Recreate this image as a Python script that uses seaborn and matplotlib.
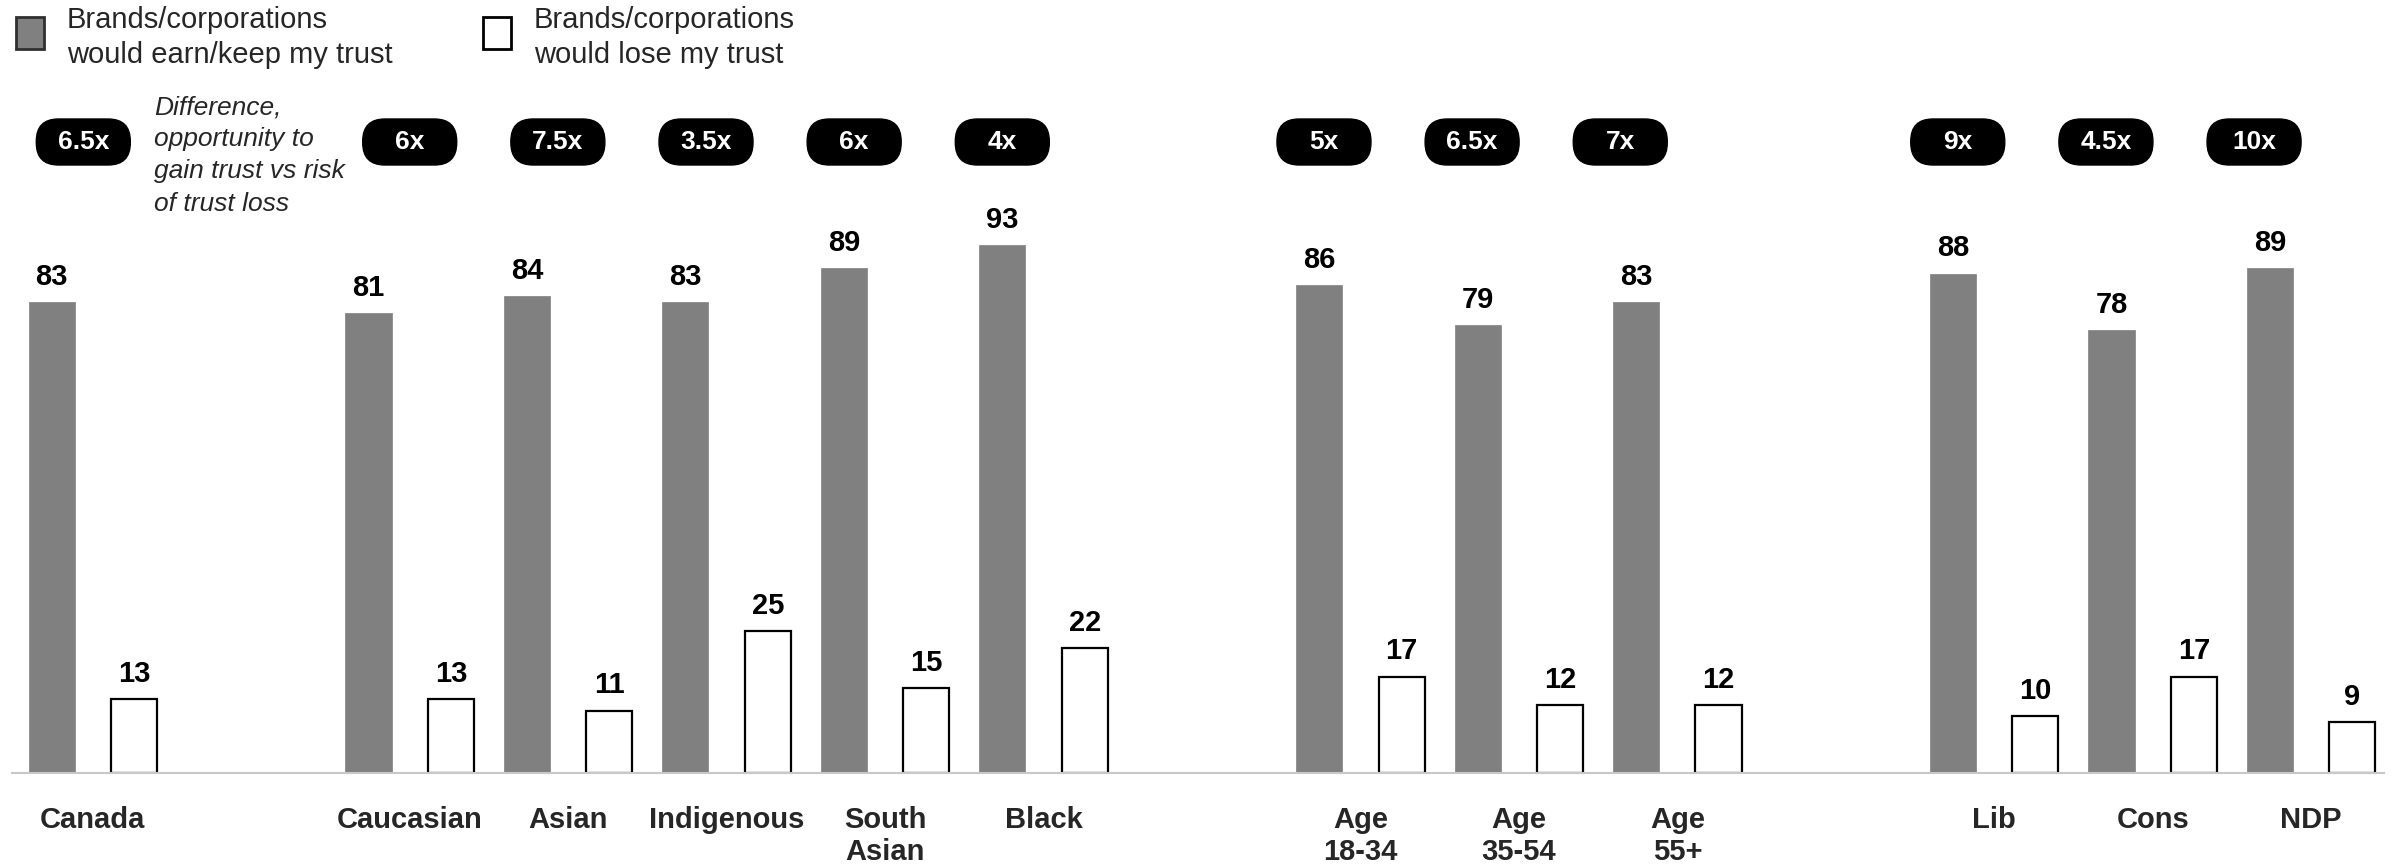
import matplotlib
matplotlib.use("Agg")
import matplotlib.pyplot as plt
from matplotlib.patches import FancyBboxPatch, Rectangle
import seaborn as sns
import pandas as pd

# ---- data -------------------------------------------------------------
total_group = ["Canada"]
ethnic_group = ["Caucasian", "Asian", "Indigenous", "South\nAsian", "Black"]
age_group = ["Age\n18-34", "Age\n35-54", "Age\n55+"]
party_group = ["Lib", "Cons", "NDP"]
groups = [total_group, ethnic_group, age_group, party_group]
categories = [c for g in groups for c in g]

earn_trust = [83, 81, 84, 83, 89, 93, 86, 79, 83, 88, 78, 89]
lose_trust = [13, 13, 11, 25, 15, 22, 17, 12, 12, 10, 17, 9]
ratios = ["6.5x", "6x", "7.5x", "3.5x", "6x", "4x", "5x", "6.5x", "7x", "9x", "4.5x", "10x"]
series_names = ["Brands/corporations\nwould earn/keep my trust",
                "Brands/corporations\nwould lose my trust"]
note_text = "Difference,\nopportunity to\ngain trust vs risk\nof trust loss"

# an empty slot separates consecutive groups
order = []
for gi, g in enumerate(groups):
    order.extend(g)
    if gi < len(groups) - 1:
        order.append(f"gap{gi}")

df = pd.DataFrame({
    "group": categories * 2,
    "series": [series_names[0]] * len(categories) + [series_names[1]] * len(categories),
    "value": earn_trust + lose_trust,
})

GRAY = "#808080"
FONT = ["Liberation Sans", "DejaVu Sans"]

sns.set_theme(style="white")
plt.rcParams["font.family"] = FONT

W, H = 2392, 865
fig = plt.figure(figsize=(W / 100, H / 100), dpi=100)

# axes geometry in pixels
ax_left, ax_right = 12, 2384
ax_bottom_px = 92          # baseline distance from figure bottom
y_top = 130
px_per_unit = 5.675
ax_h_px = y_top * px_per_unit
ax = fig.add_axes([ax_left / W, ax_bottom_px / H, (ax_right - ax_left) / W, ax_h_px / H])

sns.barplot(data=df, x="group", y="value", hue="series", order=order,
            hue_order=series_names, palette=[GRAY, "white"], width=1.04, gap=0.44,
            errorbar=None, legend=False, ax=ax)

for i, cont in enumerate(ax.containers):
    for bar in cont:
        if i == 0:
            bar.set_edgecolor(GRAY)
            bar.set_linewidth(0.5)
        else:
            bar.set_edgecolor("black")
            bar.set_linewidth(1.6)
    ax.bar_label(cont, fmt="{:g}", padding=8, fontsize=21, fontweight="bold",
                 color="black")

xmin, xmax = -0.51, len(order) - 1 + 0.46
ax.set_xlim(xmin, xmax)
ax.set_ylim(0, y_top)
ax.set_yticks([])
ax.set_ylabel("")
ax.set_xlabel("")
ax.set_xticks(range(len(order)))
ax.set_xticklabels([c if not c.startswith("gap") else "" for c in order],
                   fontsize=21, fontweight="bold", linespacing=1.15)
ax.tick_params(axis="x", length=0, pad=24)
for s in ["top", "right", "left"]:
    ax.spines[s].set_visible(False)
ax.spines["bottom"].set_color("#c8c8c8")
ax.spines["bottom"].set_linewidth(1.5)
ax.set_facecolor("none")

# ratio pills above each group, slightly tighter spacing than the bars
ax_w_px = ax_right - ax_left
px_per_x = ax_w_px / (xmax - xmin)
aspect = px_per_x / px_per_unit
pill_w = 94 / px_per_x
pill_h = 46 / px_per_unit
pill_y = (H - ax_bottom_px - 142) / px_per_unit
pill_step = 0.935
group_shift = [-0.06, 0.0, -0.23, -0.23]
ratio_of = dict(zip(categories, ratios))
for g, shift in zip(groups, group_shift):
    first = order.index(g[0])
    for c in g:
        xc = first + (order.index(c) - first) * pill_step + shift
        box = FancyBboxPatch((xc - pill_w / 2, pill_y - pill_h / 2), pill_w, pill_h,
                             boxstyle="round,pad=0,rounding_size=0.14",
                             mutation_aspect=aspect, facecolor="black",
                             edgecolor="black", clip_on=False, transform=ax.transData)
        ax.add_patch(box)
        ax.text(xc, pill_y, ratio_of[c], ha="center", va="center", color="white",
                fontsize=19, fontweight="bold", clip_on=False)

# explanatory note next to the first pill
fig.text(154 / W, 1 - 95 / H, note_text, ha="left", va="top", fontsize=19,
         style="italic", linespacing=1.43)

# legend drawn as swatches + two-line labels
swatches = [(16, GRAY, "#303030"), (483, "white", "black")]
for (x0, fc, ec), label in zip(swatches, series_names):
    fig.patches.append(Rectangle((x0 / W, 1 - 49 / H), 28 / W, 32 / H,
                                 transform=fig.transFigure, facecolor=fc,
                                 edgecolor=ec, linewidth=2))
    fig.text((x0 + 51) / W, 1 - 6 / H, label, ha="left", va="top",
             fontsize=21, linespacing=1.31)

fig.savefig("out.png", dpi=100, facecolor="white")
